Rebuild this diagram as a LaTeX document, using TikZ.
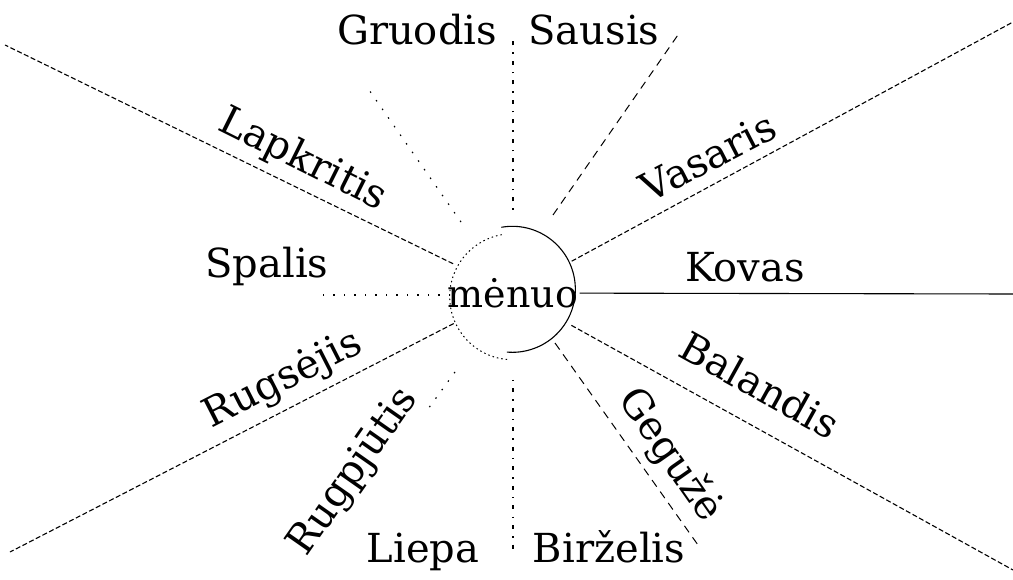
\documentclass[tikz,border=0pt]{standalone}
\usepackage{fontspec}
\setmainfont{DejaVu Serif}
\begin{document}
\begin{tikzpicture}[x=1pt,y=1pt,
  lbl/.style={font=\fontsize{40}{48}\selectfont, inner sep=0pt},
  hub/.style={circle, minimum size=126pt, inner sep=0pt, outer sep=0pt, font=\fontsize{38}{46}\selectfont},
  longdash/.style={line width=1.1pt, dash pattern=on 5pt off 2.5pt},
  solidline/.style={line width=1.1pt},
  loosedash/.style={line width=1pt, dash pattern=on 8pt off 6pt},
  sparsedot/.style={line width=1.2pt, dash pattern=on 1.5pt off 9pt},
  vdot/.style={line width=1.2pt, dash pattern=on 1.5pt off 7pt on 4pt off 7pt},
  arcdot/.style={line width=1pt, dash pattern=on 1.5pt off 3pt},
]
\useasboundingbox (0,0) rectangle (1013,579);
% hub
\node[hub] (m) at (513,286) {mėnuo};
\draw[solidline] (m.100) arc[start angle=100, end angle=-95, radius=63pt];
\draw[arcdot] (m.-95) arc[start angle=-95, end angle=-260, radius=63pt];
% free ends
\coordinate (eLap) at (5,534);
\coordinate (eVas) at (1013,557);
\coordinate (eKov) at (1013,285);
\coordinate (eBal) at (1013,9);
\coordinate (eRgs) at (10,27);
\coordinate (sSau) at (553,364);
\coordinate (eSau) at (680,547);
\coordinate (sGeg) at (555,236);
\coordinate (eGeg) at (698,34);
\coordinate (sUp) at (513,369);
\coordinate (eUp) at (513,541);
\coordinate (sDn) at (513,199);
\coordinate (eDn) at (513,24);
\coordinate (sUL) at (461,357);
\coordinate (eUL) at (367,492);
\coordinate (sLL) at (455,207);
\coordinate (eLL) at (428,170);
\coordinate (sL) at (450,284);
\coordinate (eL) at (320,284);
% connectors
\draw[longdash] (m) -- (eLap);
\draw[longdash] (m) -- (eVas);
\draw[solidline] (m) -- (eKov);
\draw[longdash] (m) -- (eBal);
\draw[longdash] (m) -- (eRgs);
\draw[loosedash] (sSau) -- (eSau);
\draw[loosedash] (sGeg) -- (eGeg);
\draw[vdot] (sUp) -- (eUp);
\draw[vdot] (sDn) -- (eDn);
\draw[sparsedot] (sUL) -- (eUL);
\draw[sparsedot] (sLL) -- (eLL);
\draw[sparsedot] (sL) -- (eL);
% labels
\node[lbl, anchor=base] (gru) at (417,534) {Gruodis};
\node[lbl, anchor=base] (sau) at (594,534) {Sausis};
\node[lbl, anchor=base] (spa) at (267,301) {Spalis};
\node[lbl, anchor=base] (kov) at (745,297) {Kovas};
\node[lbl, anchor=base] (lie) at (423,17) {Liepa};
\node[lbl, anchor=base] (bir) at (609,17) {Birželis};
\node[lbl, rotate=-26.5] (lap) at (303,419) {Lapkritis};
\node[lbl, rotate=27.3] (vas) at (708,422) {Vasaris};
\node[lbl, rotate=27] (rgs) at (283,199) {Rugsėjis};
\node[lbl, rotate=-29] (bal) at (760,194) {Balandis};
\node[lbl, rotate=55] (rgp) at (354,107) {Rugpjūtis};
\node[lbl, rotate=-55] (geg) at (670,124) {Gegužė};
\end{tikzpicture}
\end{document}
